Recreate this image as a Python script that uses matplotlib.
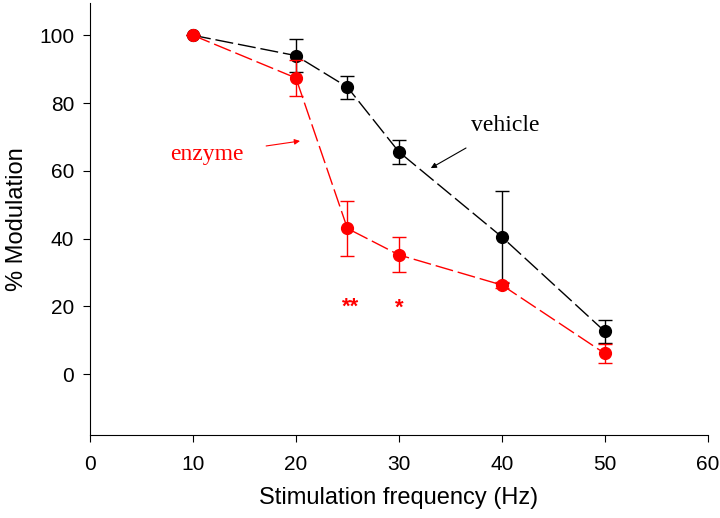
import matplotlib
matplotlib.use("Agg")
import matplotlib.pyplot as plt

freq = [10, 20, 25, 30, 40, 50]
vehicle = [100, 94, 84.7, 65.6, 40.5, 12.6]
vehicle_err = [0, 4.8, 3.4, 3.5, 13.5, 3.3]
enzyme = [100, 87.4, 43, 35.2, 26.3, 6.1]
enzyme_err = [0, 5.2, 8.2, 5.2, 0.8, 2.7]

xticks = [0, 10, 20, 30, 40, 50, 60]
yticks = [0, 20, 40, 60, 80, 100]

plt.rcParams['font.family'] = ['Liberation Sans', 'DejaVu Sans']

fig = plt.figure(figsize=(7.2, 5.18), dpi=100)
ax = fig.add_axes([0.125, 0.160, 0.858, 0.834])

ax.errorbar(freq, vehicle, yerr=vehicle_err, color='black', marker='o', markersize=8.5,
            linestyle=(0, (13, 3.5)), linewidth=1.0, capsize=5, elinewidth=1.0, capthick=1.0, zorder=3)
ax.errorbar(freq, enzyme, yerr=enzyme_err, color='#ff0000', marker='o', markersize=8.5,
            linestyle=(0, (13, 3.5)), linewidth=1.0, capsize=5, elinewidth=1.0, capthick=1.0, zorder=4)

ax.text(25.3, 19.8, '**', color='#ff0000', ha='center', va='center', fontsize=16, fontweight='bold')
ax.text(30.0, 19.4, '*', color='#ff0000', ha='center', va='center', fontsize=16, fontweight='bold')

ax.annotate('enzyme', xy=(20.4, 68.8), xytext=(11.4, 64.8), color='#ff0000',
            fontsize=17, family=['Liberation Serif'], ha='center', va='center',
            arrowprops=dict(arrowstyle='-|>', color='#ff0000', lw=0.8, mutation_scale=8,
                            shrinkA=14, shrinkB=0))
ax.annotate('vehicle', xy=(33.1, 60.8), xytext=(40.3, 73.3), color='black',
            fontsize=17, family=['Liberation Serif'], ha='center', va='center',
            arrowprops=dict(arrowstyle='-|>', color='black', lw=0.8, mutation_scale=8,
                            shrinkA=13, shrinkB=0))

ax.set_xlim(0, 60)
ax.set_ylim(-18, 109.5)
ax.set_xticks(xticks)
ax.set_yticks(yticks)
ax.tick_params(direction='out', length=5, labelsize=15)
ax.tick_params(axis='x', pad=9)
ax.tick_params(axis='y', pad=6.5)
ax.spines['top'].set_visible(False)
ax.spines['right'].set_visible(False)
ax.set_xlabel('Stimulation frequency (Hz)', fontsize=17, labelpad=10)
ax.set_ylabel('% Modulation', fontsize=17, labelpad=8)

fig.savefig('out.png', dpi=100)
